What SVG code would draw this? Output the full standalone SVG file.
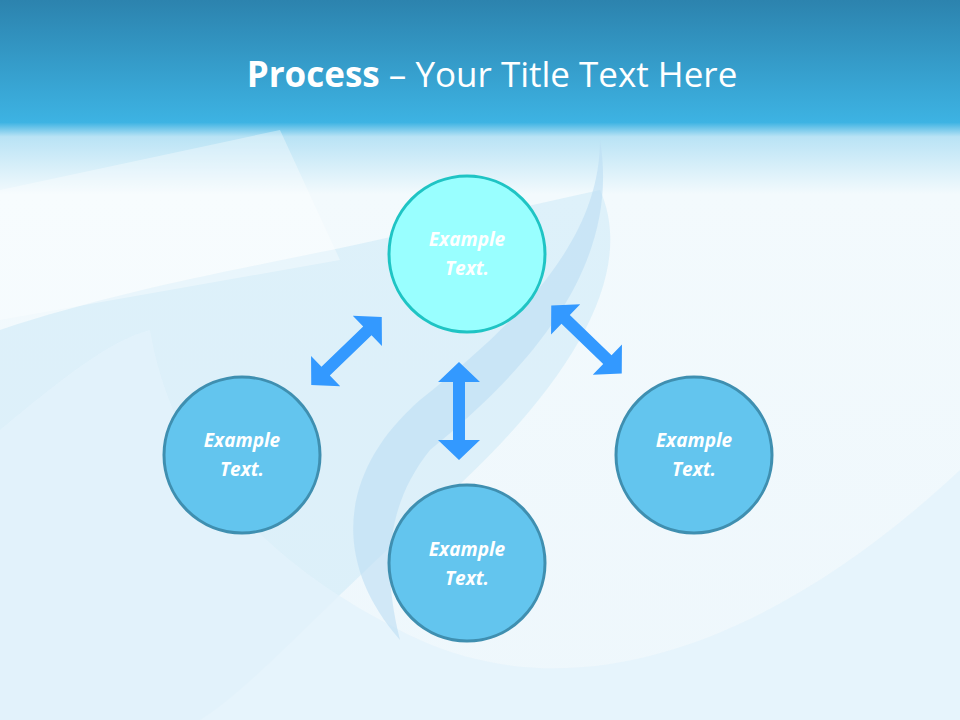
<svg xmlns="http://www.w3.org/2000/svg" width="960" height="720" viewBox="0 0 960 720">
<defs>
<linearGradient id="bg" x1="0" y1="0" x2="0" y2="1">
<stop offset="0" stop-color="#2C83AE"/>
<stop offset="0.17" stop-color="#3DB3E3"/>
<stop offset="0.19" stop-color="#B9E3F5"/>
<stop offset="0.27" stop-color="#F3FAFD"/>
<stop offset="1" stop-color="#EEF7FC"/>
</linearGradient>
<style>
.arr{fill:#3399FF}
.c{fill:#63C5EE;stroke:#3F8FB0;stroke-width:3}
.t{font-family:"Open Sans","Liberation Sans",sans-serif;font-size:19px;font-weight:bold;font-style:italic;fill:#FFFFFF;text-anchor:middle}
</style>
<path id="da" d="M-49,0 L-29,-21 L-29,-6 L29,-6 L29,-21 L49,0 L29,21 L29,6 L-29,6 L-29,21 Z"/>
</defs>
<rect width="960" height="720" fill="url(#bg)"/>
<path d="M0,330 C150,280 300,260 420,230 L600,190 C640,280 560,400 420,520 C330,600 250,690 200,720 L0,720 Z" fill="#D4ECF8" opacity="0.7"/>
<path d="M150,330 C170,450 250,560 420,640 C600,720 800,620 960,470 L960,720 L0,720 L0,430 C60,380 110,340 150,330 Z" fill="#E4F3FB" opacity="0.8"/>
<path d="M600,140 C620,260 540,360 430,450 C390,500 380,560 400,640 C330,560 340,470 420,400 C520,320 600,240 600,140 Z" fill="#BCDDF3" opacity="0.6"/>
<path d="M280,130 L340,260 L0,320 L0,190 Z" fill="#FFFFFF" opacity="0.35"/>
<text x="492" y="87" font-family="'Open Sans','Liberation Sans',sans-serif" font-size="35" fill="#FFFFFF" text-anchor="middle"><tspan font-weight="bold">Process</tspan> – Your Title Text Here</text>
<g id="connectors">
<use href="#da" class="arr" transform="translate(459,411) rotate(90)"/>
<use href="#da" class="arr" transform="translate(346.5,351) rotate(-44)"/>
<use href="#da" class="arr" transform="translate(586.5,339.5) rotate(44)"/>
</g>
<g id="n-top">
<circle cx="467" cy="254" r="78" fill="#99FFFF" stroke="#1FC4C4" stroke-width="3"/>
<text class="t" x="467" y="246">Example</text><text class="t" x="467" y="275">Text.</text>
</g>
<g id="n-left">
<circle class="c" cx="242" cy="455" r="78"/>
<text class="t" x="242" y="447">Example</text><text class="t" x="242" y="476">Text.</text>
</g>
<g id="n-bottom">
<circle class="c" cx="467" cy="563" r="78"/>
<text class="t" x="467" y="556">Example</text><text class="t" x="467" y="585">Text.</text>
</g>
<g id="n-right">
<circle class="c" cx="694" cy="455" r="78"/>
<text class="t" x="694" y="447">Example</text><text class="t" x="694" y="476">Text.</text>
</g>
</svg>
